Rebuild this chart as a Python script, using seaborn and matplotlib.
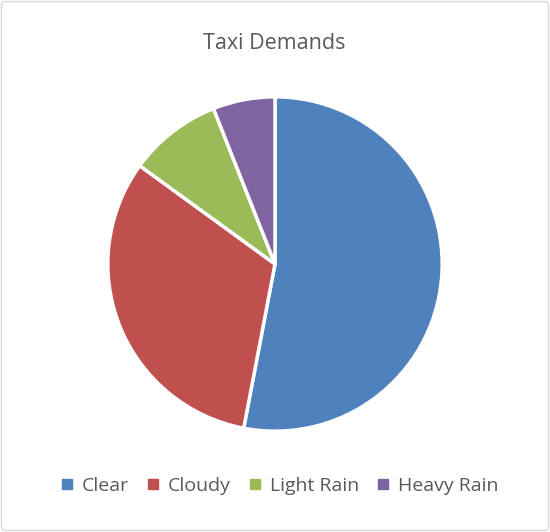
import matplotlib
matplotlib.use("Agg")
import matplotlib.pyplot as plt
import seaborn as sns
from matplotlib.patches import FancyBboxPatch
from matplotlib.lines import Line2D

sns.set_theme(style="white")
plt.rcParams['font.family'] = ['Open Sans', 'DejaVu Sans']

categories = ["Clear", "Cloudy", "Light Rain", "Heavy Rain"]
values = [53, 32, 9, 6]
colors = ["#4F81BD", "#C0504D", "#9BBB59", "#8064A2"]
title = "Taxi Demands"

W, H = 550, 532
fig = plt.figure(figsize=(W / 100, H / 100), dpi=100)
fig.patch.set_facecolor("white")

# outer frame
frame = FancyBboxPatch((1.5 / W, 1.5 / H), (W - 3) / W, (H - 3) / H,
                       boxstyle="round,pad=0,rounding_size=0.008",
                       transform=fig.transFigure, facecolor="none",
                       edgecolor="#D9D9D9", linewidth=1.0, zorder=0)
fig.patches.append(frame)

cx, cy, r = 275, 264, 168
ax = fig.add_axes([(cx - r) / W, (H - cy - r) / H, 2 * r / W, 2 * r / H])
ax.set_zorder(2)
ax.pie(values, colors=colors, startangle=90, counterclock=False,
       wedgeprops=dict(edgecolor="white", linewidth=2.5))
ax.set_aspect("equal")
ax.set_xlim(-1.005, 1.005)
ax.set_ylim(-1.005, 1.005)
ax.axis("off")

fig.text(274 / W, 1 - 44 / H, title, ha="center", va="center",
         fontsize=15.5, color="#595959")

handles = [Line2D([0], [0], marker="s", linestyle="none", markersize=6.5,
                  markerfacecolor=c, markeredgecolor=c) for c in colors]
leg = fig.legend(handles, categories, loc="center", ncol=4,
                 bbox_to_anchor=(280 / W, 1 - 486 / H), frameon=False,
                 fontsize=14, handlelength=0.6, handletextpad=0.45,
                 columnspacing=0.95, labelcolor="#595959")

fig.savefig("out.png", dpi=100, facecolor="white")
